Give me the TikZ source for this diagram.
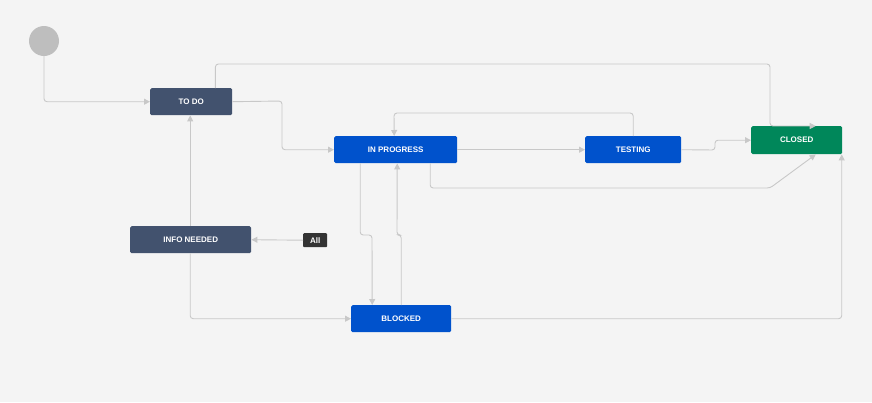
\documentclass[tikz,border=0pt]{standalone}
\usepackage{fontspec}
\setmainfont{Liberation Sans}
\usetikzlibrary{arrows.meta}
\definecolor{bg}{HTML}{F4F4F4}
\definecolor{slate}{HTML}{42526E}
\definecolor{jblue}{HTML}{0052CC}
\definecolor{jgreen}{HTML}{00875A}
\definecolor{ln}{HTML}{C8C8C8}
\begin{document}
\begin{tikzpicture}[x=1pt,y=-1pt,
  st/.style={rectangle,rounded corners=1.5pt,text=white,font=\fontsize{8}{9}\selectfont\bfseries,inner sep=0pt,anchor=north west},
  conn/.style={draw=ln,line width=0.9pt,rounded corners=3pt,-{Triangle[length=6pt,width=6pt]}}]
\fill[bg] (0,0) rectangle (872,402);
\useasboundingbox (0,0) rectangle (872,402);
\node[circle,fill=ln!95!black,minimum size=30pt,inner sep=0pt] (start) at (44,41) {};
\node[st,fill=slate,minimum width=82pt,minimum height=27pt] (todo) at (150,88) {TO DO};
\node[st,fill=jblue,minimum width=123pt,minimum height=27pt] (inprog) at (334,136) {IN PROGRESS};
\node[st,fill=jblue,minimum width=96pt,minimum height=27pt] (testing) at (585,136) {TESTING};
\node[st,fill=jgreen,minimum width=91pt,minimum height=28pt] (closed) at (751,126) {CLOSED};
\node[st,fill=slate,minimum width=121pt,minimum height=27pt] (info) at (130,226) {INFO NEEDED};
\node[st,fill=jblue,minimum width=100pt,minimum height=27pt] (blocked) at (351,305) {BLOCKED};
\node[st,fill=black!80,minimum width=24pt,minimum height=14pt,rounded corners=1pt] (all) at (303,233) {All};
\draw[conn] (start.south) |- (todo.west);
\draw[conn] ([xshift=-17pt]todo.north east) |- (770,64) -- (770,126) -- ([xshift=19pt]closed.north);
\draw[conn] (todo.east) -- (282,101) |- (inprog.west);
\draw[conn] (inprog.east) -- (testing.west);
\draw[conn] (testing.north) |- (394,113) -- ([xshift=-1.5pt]inprog.north);
\draw[conn] (testing.east) -- (715,150) |- (closed.west);
\draw[conn] ([xshift=34.5pt]inprog.south) |- (770,188) -- ([xshift=19pt]closed.south);
\draw[conn] ([xshift=-35.5pt]inprog.south) |- (372,235) -- ([xshift=-29pt]blocked.north);
\draw[conn] ([xshift=0pt]blocked.north) |- (397,235) -- ([xshift=1.5pt]inprog.south);
\draw[conn] ([xshift=-0.5pt]info.north) -- ([xshift=-1pt]todo.south);
\draw[conn] (all.west) -- (info.east);
\draw[conn] ([xshift=-0.5pt]info.south) |- (blocked.west);
\draw[conn] (blocked.east) -| ([xshift=45pt]closed.south);
\end{tikzpicture}
\end{document}
